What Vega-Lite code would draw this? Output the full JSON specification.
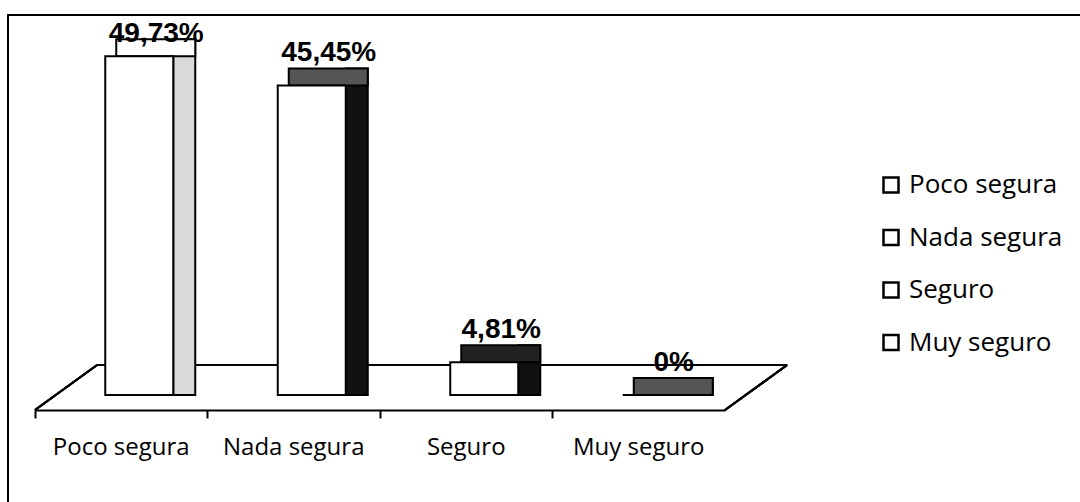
{
  "$schema": "https://vega.github.io/schema/vega-lite/v6.json",
  "autosize": {"type": "fit", "contains": "padding"},
  "width": 1080,
  "height": 502,
  "padding": {"left": 8, "top": 15, "right": -10, "bottom": -10},
  "background": "white",
  "config": {
    "view": {"stroke": "black", "strokeWidth": 2},
    "font": "Open Sans"
  },
  "data": {
    "values": [
      {"cat": "Poco segura", "value": 49.73, "label": "49,73%"},
      {"cat": "Nada segura", "value": 45.45, "label": "45,45%"},
      {"cat": "Seguro", "value": 4.81, "label": "4,81%"},
      {"cat": "Muy seguro", "value": 0, "label": "0%"}
    ]
  },
  "encoding": {
    "x": {
      "field": "cat",
      "type": "nominal",
      "sort": null,
      "scale": {"type": "band", "domain": ["Poco segura", "Nada segura", "Seguro", "Muy seguro"], "range": [27, 717], "paddingInner": 0, "paddingOuter": 0},
      "axis": {
        "title": null,
        "orient": "bottom",
        "offset": -102,
        "domainColor": "black",
        "domainWidth": 2,
        "tickColor": "black",
        "tickWidth": 2,
        "tickSize": 8,
        "bandPosition": 0,
        "labelAngle": 0,
        "labelFont": "Open Sans",
        "labelFontSize": 24,
        "labelColor": "black",
        "labelBaseline": "middle",
        "labelPadding": 29,
        "labelBound": false,
        "labelOverlap": false
      }
    },
    "y": {
      "field": "value",
      "type": "quantitative",
      "scale": {"domain": [-17.18, 55.8], "nice": false, "zero": false},
      "axis": null
    }
  },
  "layer": [
    {
      "mark": {"type": "rule", "color": "black", "strokeWidth": 2},
      "encoding": {
        "x": {"datum": "Poco segura", "bandPosition": 0.36},
        "x2": {"datum": "Muy seguro", "bandPosition": 1.36},
        "y": {"datum": 4.4},
        "y2": null
      }
    },
    {
      "mark": {"type": "rule", "color": "black", "strokeWidth": 2},
      "encoding": {
        "x": {"datum": "Poco segura", "bandPosition": 0},
        "x2": {"datum": "Poco segura", "bandPosition": 0.36},
        "y": {"datum": -2.2},
        "y2": {"datum": 4.4}
      }
    },
    {
      "mark": {"type": "rule", "color": "black", "strokeWidth": 2},
      "encoding": {
        "x": {"datum": "Muy seguro", "bandPosition": 1},
        "x2": {"datum": "Muy seguro", "bandPosition": 1.36},
        "y": {"datum": -2.2},
        "y2": {"datum": 4.4}
      }
    },
    {
      "mark": {"type": "bar", "width": 22, "xOffset": 63, "yOffset": -17, "y2Offset": 0, "stroke": "black", "strokeWidth": 2},
      "encoding": {
        "y2": {"datum": 0},
        "fill": {
          "condition": [
            {"test": "datum.cat === 'Poco segura'", "value": "#d9d9d9"},
            {"test": "datum.cat === 'Muy seguro'", "value": "#555555"}
          ],
          "value": "#111111"
        }
      }
    },
    {
      "mark": {"type": "bar", "width": 79, "xOffset": 34.5, "yOffset": -17, "y2Offset": 0, "stroke": "black", "strokeWidth": 2},
      "encoding": {
        "y2": {"field": "value"},
        "fill": {
          "condition": [
            {"test": "datum.cat === 'Poco segura'", "value": "#ffffff"},
            {"test": "datum.cat === 'Seguro'", "value": "#222222"}
          ],
          "value": "#555555"
        }
      }
    },
    {
      "mark": {"type": "bar", "width": 68, "xOffset": 18, "stroke": "black", "strokeWidth": 2, "opacity": 1},
      "encoding": {
        "y2": {"datum": 0},
        "color": {
          "field": "cat",
          "type": "nominal",
          "sort": null,
          "scale": {"domain": ["Poco segura", "Nada segura", "Seguro", "Muy seguro"], "range": ["#ffffff", "#ffffff", "#ffffff", "#ffffff"]},
          "legend": {
            "title": null,
            "orient": "none",
            "legendX": 870,
            "legendY": 157,
            "symbolType": "square",
            "symbolSize": 225,
            "symbolStrokeColor": "black",
            "symbolStrokeWidth": 2.5,
            "symbolFillColor": "white",
            "labelFont": "Open Sans",
            "labelFontSize": 26,
            "labelColor": "black",
            "labelOffset": 5,
            "rowPadding": 26.5,
            "labelLimit": 300
          }
        }
      }
    },
    {
      "mark": {"type": "text", "font": "Liberation Sans", "fontWeight": "bold", "fontSize": 28, "baseline": "alphabetic", "align": "center", "xOffset": 35, "yOffset": {"expr": "datum.value > 49 ? -14 : -24"}, "color": "black"},
      "encoding": {
        "text": {"field": "label"}
      }
    }
  ]
}
